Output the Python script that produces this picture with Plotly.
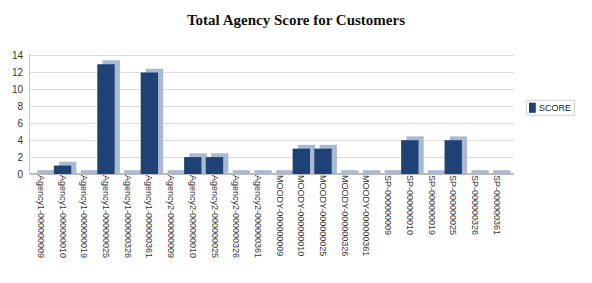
import plotly.graph_objects as go

categories = [
    "Agency1-000000009", "Agency1-000000010", "Agency1-000000019", "Agency1-000000025",
    "Agency1-000000326", "Agency1-000000361", "Agency2-000000009", "Agency2-000000010",
    "Agency2-000000025", "Agency2-000000326", "Agency2-000000361", "MOODY-000000009",
    "MOODY-000000010", "MOODY-000000025", "MOODY-000000326", "MOODY-000000361",
    "SP-000000009", "SP-000000010", "SP-000000019", "SP-000000025",
    "SP-000000326", "SP-000000361",
]
score = [0, 1, 0, 13, 0, 12, 0, 2, 2, 0, 0, 0, 3, 3, 0, 0, 0, 4, 0, 4, 0, 0]
y_ticks = [0, 2, 4, 6, 8, 10, 12, 14]
series_name = "SCORE"

depth = 0.45
idx = list(range(len(categories)))

fig = go.Figure()
# depth (3D side/top) faces, drawn behind the front faces
fig.add_trace(go.Bar(
    x=[i + 0.24 for i in idx], y=[v + depth for v in score], base=0,
    width=0.8, marker=dict(color="#a9b9d0", line=dict(width=0)),
    showlegend=False, hoverinfo="skip",
))
fig.add_trace(go.Bar(
    x=idx, y=score, name=series_name, width=0.8,
    marker=dict(color="#1f4276", line=dict(width=0)),
    showlegend=False,
))

# compact legend box (square marker + label)
fig.add_shape(type="rect", xref="paper", yref="paper",
              x0=1.026, x1=1.125, y0=0.49, y1=0.615,
              line=dict(color="#d0d0d0", width=1), fillcolor="white")
fig.add_shape(type="rect", xref="paper", yref="paper",
              x0=1.031, x1=1.045, y0=0.51, y1=0.595,
              line=dict(width=0), fillcolor="#1f4276")
fig.add_annotation(xref="paper", yref="paper", x=1.048, y=0.553,
                   xanchor="left", yanchor="middle", showarrow=False,
                   text=series_name, font=dict(size=9, color="#222"))

fig.update_layout(
    width=592, height=283,
    margin=dict(l=26, r=78, t=54, b=109),
    paper_bgcolor="white", plot_bgcolor="white",
    barmode="overlay",
    title=dict(text="<b>Total Agency Score for Customers</b>",
               x=0.5, xref="container", xanchor="center", y=0.93, yanchor="middle",
               font=dict(family="Liberation Serif, Times New Roman, serif", size=15, color="#111")),
    font=dict(family="Liberation Sans, Arial, sans-serif", size=10, color="#333"),
    showlegend=False,
)
fig.update_xaxes(
    tickmode="array", tickvals=idx, ticktext=categories,
    tickangle=90, tickfont=dict(size=9, color="#333"),
    range=[-0.5, len(categories) - 0.2],
    showgrid=False, showline=False, zeroline=False, ticks="",
)
fig.update_yaxes(
    range=[0, 14.2], tickvals=y_ticks, tickfont=dict(size=10, color="#333"),
    showgrid=True, gridcolor="#dcdcdc", gridwidth=1,
    showline=True, linecolor="#c8c8c8", zeroline=True, zerolinecolor="#bbbbbb",
    ticks="", ticklabelstandoff=4,
)

fig.write_html("out.html")
